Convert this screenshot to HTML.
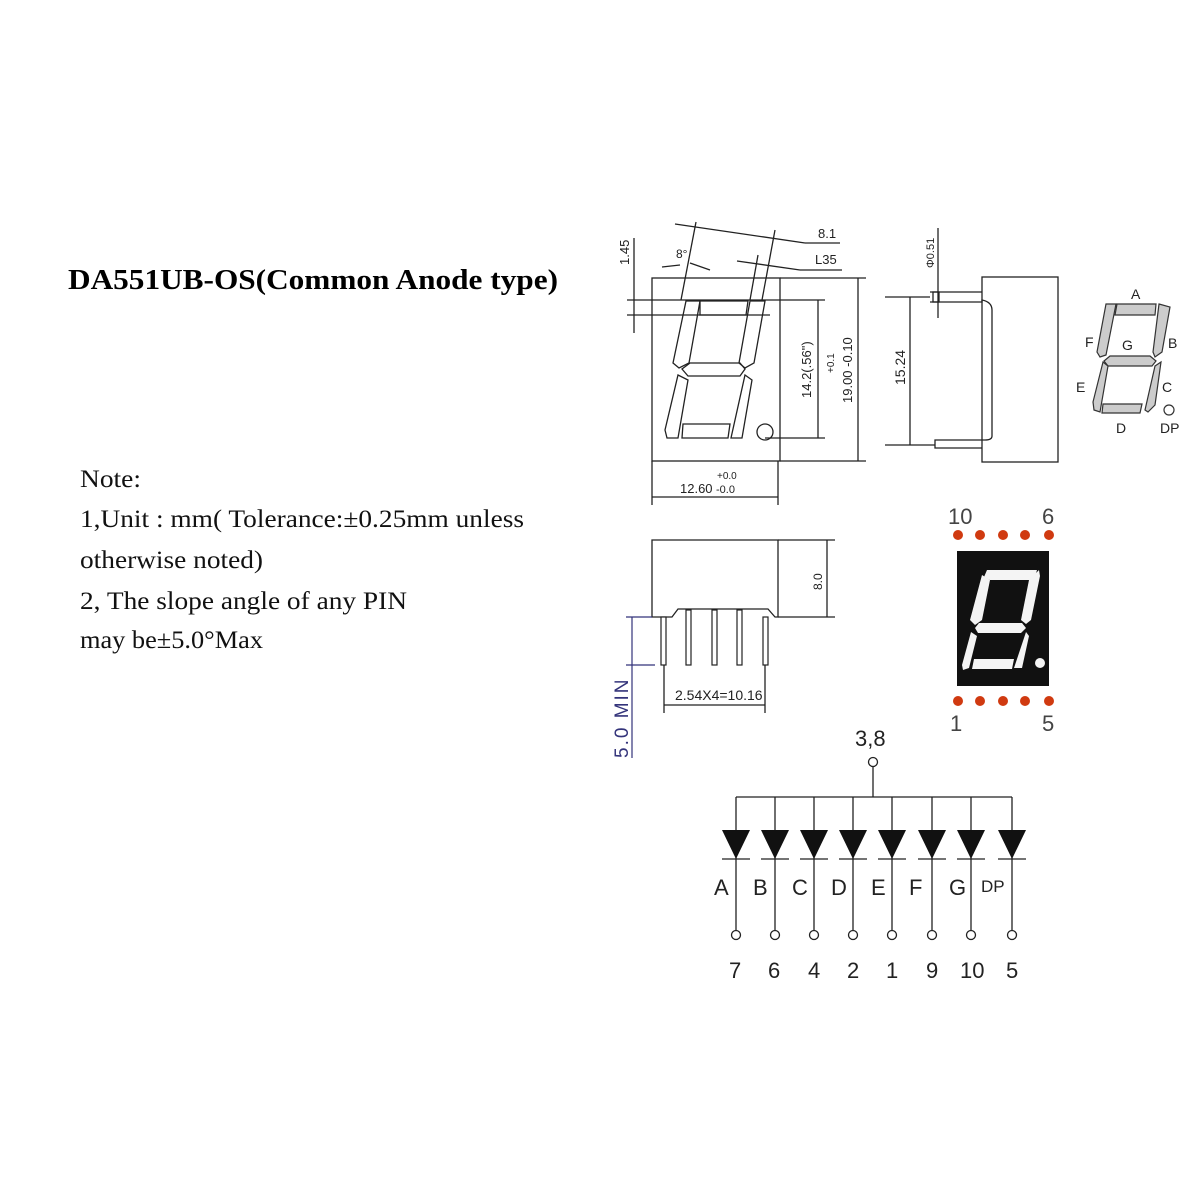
<!DOCTYPE html>
<html><head><meta charset="utf-8"><style>
html,body{margin:0;padding:0;background:#fff}
svg{display:block}
.s{font-family:"Liberation Serif",serif}
.n{font-family:"Liberation Sans",sans-serif}
</style></head><body>
<svg width="1200" height="1200" viewBox="0 0 1200 1200" xmlns="http://www.w3.org/2000/svg">
<rect width="1200" height="1200" fill="#fff"/>
<text x="68" y="289" class="s" font-size="29" font-weight="bold" fill="#000" textLength="490" lengthAdjust="spacingAndGlyphs">DA551UB-OS(Common Anode type)</text>
<g class="s" font-size="25" fill="#111">
<text x="80" y="487" textLength="61" lengthAdjust="spacingAndGlyphs">Note:</text>
<text x="80" y="527" textLength="444" lengthAdjust="spacingAndGlyphs">1,Unit : mm( Tolerance:±0.25mm unless</text>
<text x="80" y="568" textLength="183" lengthAdjust="spacingAndGlyphs">otherwise noted)</text>
<text x="80" y="609" textLength="327" lengthAdjust="spacingAndGlyphs">2, The slope angle of any PIN</text>
<text x="80" y="648" textLength="183" lengthAdjust="spacingAndGlyphs">may be±5.0°Max</text>
</g>

<g stroke="#222" stroke-width="1.3" fill="none">
<rect x="652" y="278" width="128" height="183"/>
<line x1="780" y1="278" x2="866" y2="278"/>
<line x1="780" y1="461" x2="866" y2="461"/>
<line x1="627" y1="300" x2="825" y2="300"/>
<line x1="627" y1="315" x2="770" y2="315"/>
<line x1="765" y1="438" x2="825" y2="438"/>
<line x1="818" y1="300" x2="818" y2="438"/>
<line x1="858" y1="278" x2="858" y2="461"/>
<line x1="634" y1="238" x2="634" y2="333"/>
<line x1="652" y1="461" x2="652" y2="505"/>
<line x1="778" y1="461" x2="778" y2="505"/>
<line x1="652" y1="497" x2="778" y2="497"/>
<line x1="696" y1="222" x2="681" y2="300"/>
<line x1="775" y1="230" x2="762" y2="300"/>
<line x1="758" y1="255" x2="750" y2="300"/>
<line x1="675" y1="224" x2="805" y2="243"/>
<line x1="805" y1="243" x2="840" y2="243"/>
<line x1="737" y1="261" x2="800" y2="270"/>
<line x1="800" y1="270" x2="842" y2="270"/>
<line x1="662" y1="267" x2="680" y2="265"/>
<line x1="690" y1="263" x2="710" y2="270"/>
<polygon points="700,301 748,301 746,315 700,315"/>
<polygon points="686,301 700,301 689,363 679,368 673,363"/>
<polygon points="750,301 765,301 754,363 745,368 739,363"/>
<polygon points="690,363 740,363 745,369 740,376 688,376 682,369"/>
<polygon points="678,375 688,380 678,438 667,438 665,430"/>
<polygon points="745,375 752,380 742,438 731,438"/>
<polygon points="683,424 730,424 728,438 682,438"/>
<circle cx="765" cy="432" r="8"/>
<rect x="982" y="277" width="76" height="185"/>
<path d="M930 292 H982 M930 302 H982 V300 Q992 302 992 310 V436 Q992 440 985 440 H935 V448 H982"/>
<line x1="885" y1="297" x2="930" y2="297"/>
<line x1="885" y1="445" x2="935" y2="445"/>
<line x1="910" y1="297" x2="910" y2="445"/>
<line x1="938" y1="228" x2="938" y2="318"/>
<rect x="933" y="292" width="6" height="10"/>
<path d="M652 540 H778 V617 H775 L768 609 H678 L672 617 H652 Z"/>
<line x1="778" y1="540" x2="835" y2="540"/>
<line x1="778" y1="617" x2="835" y2="617"/>
<line x1="827" y1="540" x2="827" y2="617"/>
<line x1="664" y1="665" x2="664" y2="713"/>
<line x1="765" y1="665" x2="765" y2="713"/>
<line x1="664" y1="705" x2="765" y2="705"/>
</g>
<g fill="#fff" stroke="#222" stroke-width="1.2">
<rect x="661" y="617" width="5" height="48"/>
<rect x="686" y="610" width="5" height="55"/>
<rect x="712" y="610" width="5" height="55"/>
<rect x="737" y="610" width="5" height="55"/>
<rect x="763" y="617" width="5" height="48"/>
</g>
<g stroke="#33337a" stroke-width="1.2"><line x1="632" y1="617" x2="632" y2="758"/><line x1="626" y1="617" x2="652" y2="617"/><line x1="626" y1="665" x2="655" y2="665"/></g>
<text transform="translate(628,758) rotate(-90)" class="n" font-size="19" fill="#33337a" letter-spacing="2">5.0 MIN</text>

<g class="n" fill="#222" font-size="13">
<text transform="translate(629,265) rotate(-90)">1.45</text>
<text x="676" y="258" font-size="12">8°</text>
<text x="818" y="238" font-size="13">8.1</text>
<text x="815" y="264" font-size="13">L35</text>
<text transform="translate(811,398) rotate(-90)" font-size="13">14.2(.56")</text>
<text transform="translate(834,373) rotate(-90)" font-size="10">+0.1</text>
<text transform="translate(852,403) rotate(-90)" font-size="13">19.00 -0.10</text>
<text x="680" y="493" font-size="13">12.60</text>
<text x="717" y="479" font-size="10">+0.0</text>
<text x="716" y="493" font-size="11">-0.0</text>
<text transform="translate(905,385) rotate(-90)" font-size="14">15.24</text>
<text transform="translate(934,268) rotate(-90)" font-size="11">Φ0.51</text>
<text transform="translate(822,590) rotate(-90)" font-size="12">8.0</text>
<text x="675" y="700" font-size="14">2.54X4=10.16</text>
</g>

<g fill="#ccc" stroke="#333" stroke-width="1.2">
<polygon points="1117,304 1156,304 1155,315 1115,315"/>
<polygon points="1106,304 1116,304 1106,355 1100,357 1097,352"/>
<polygon points="1159,304 1170,307 1162,352 1155,357 1153,352"/>
<polygon points="1110,356 1150,356 1156,361 1152,366 1108,366 1104,361"/>
<polygon points="1103,362 1108,366 1100,412 1094,410 1093,402"/>
<polygon points="1155,366 1161,362 1155,405 1148,412 1145,410"/>
<polygon points="1103,404 1142,404 1140,413 1102,413"/>
</g>
<circle cx="1169" cy="410" r="5" fill="none" stroke="#333" stroke-width="1.2"/>
<g class="n" font-size="14" fill="#222">
<text x="1131" y="299">A</text><text x="1168" y="348">B</text><text x="1085" y="347">F</text>
<text x="1122" y="350">G</text><text x="1076" y="392">E</text><text x="1162" y="392">C</text>
<text x="1116" y="433">D</text><text x="1160" y="433">DP</text>
</g>

<rect x="957" y="551" width="92" height="135" fill="#111"/>
<g fill="#f4f4f4">
<polygon points="987,570 1037,570 1034,580 990,580 984,577"/>
<polygon points="982,575 990,580 982,620 975,625 970,620"/>
<polygon points="1039,570 1040,576 1031,620 1026,624 1021,620 1029,580"/>
<polygon points="979,623 1022,623 1026,628 1021,633 978,633 975,628"/>
<polygon points="971,632 977,636 969,668 963,670 962,665"/>
<polygon points="1026,632 1029,636 1022,668 1014,668"/>
<polygon points="974,659 1014,659 1012,669 972,669"/>
<circle cx="1040" cy="663" r="5"/>
</g>
<g fill="#d03a10">
<circle cx="958" cy="535" r="5"/><circle cx="980" cy="535" r="5"/><circle cx="1003" cy="535" r="5"/><circle cx="1025" cy="535" r="5"/><circle cx="1049" cy="535" r="5"/>
<circle cx="958" cy="701" r="5"/><circle cx="980" cy="701" r="5"/><circle cx="1003" cy="701" r="5"/><circle cx="1025" cy="701" r="5"/><circle cx="1049" cy="701" r="5"/>
</g>
<g class="n" font-size="22" fill="#444">
<text x="948" y="524">10</text><text x="1042" y="524">6</text>
<text x="950" y="731">1</text><text x="1042" y="731">5</text>
</g>

<g stroke="#222" stroke-width="1.3" fill="none">
<line x1="873" y1="767" x2="873" y2="797"/>
<line x1="736" y1="797" x2="1012" y2="797"/>
<circle cx="873" cy="762" r="4.5"/>
</g>
<g class="n" font-size="22" fill="#222"><text x="855" y="746">3,8</text></g>
<g stroke="#222" stroke-width="1.3" fill="none">
<path d="M736 797V930 M775 797V930 M814 797V930 M853 797V930 M892 797V930 M932 797V930 M971 797V930 M1012 797V930"/>
<path d="M722 859h28 M761 859h28 M800 859h28 M839 859h28 M878 859h28 M918 859h28 M957 859h28 M998 859h28"/>
<circle cx="736" cy="935" r="4.5"/><circle cx="775" cy="935" r="4.5"/><circle cx="814" cy="935" r="4.5"/><circle cx="853" cy="935" r="4.5"/><circle cx="892" cy="935" r="4.5"/><circle cx="932" cy="935" r="4.5"/><circle cx="971" cy="935" r="4.5"/><circle cx="1012" cy="935" r="4.5"/>
</g>
<g fill="#111">
<polygon points="722,830 750,830 736,859"/><polygon points="761,830 789,830 775,859"/>
<polygon points="800,830 828,830 814,859"/><polygon points="839,830 867,830 853,859"/>
<polygon points="878,830 906,830 892,859"/><polygon points="918,830 946,830 932,859"/>
<polygon points="957,830 985,830 971,859"/><polygon points="998,830 1026,830 1012,859"/>
</g>
<g class="n" font-size="22" fill="#222">
<text x="714" y="895">A</text><text x="753" y="895">B</text><text x="792" y="895">C</text><text x="831" y="895">D</text>
<text x="871" y="895">E</text><text x="909" y="895">F</text><text x="949" y="895">G</text><text x="981" y="892" font-size="17">DP</text>
<text x="729" y="978">7</text><text x="768" y="978">6</text><text x="808" y="978">4</text><text x="847" y="978">2</text>
<text x="886" y="978">1</text><text x="926" y="978">9</text><text x="960" y="978">10</text><text x="1006" y="978">5</text>
</g>
</svg>
</body></html>
